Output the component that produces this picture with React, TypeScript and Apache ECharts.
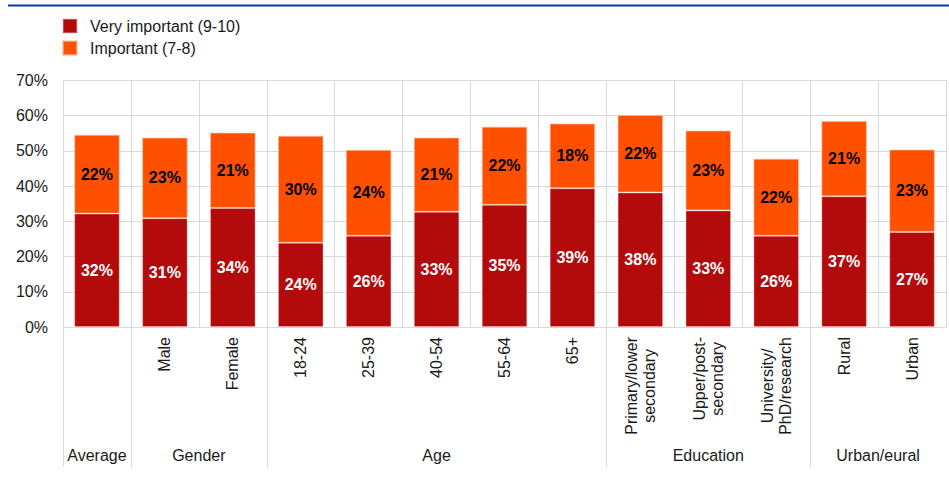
import React, { useEffect, useRef } from "react";
import * as echarts from "echarts";

const categories = [
  "Average",
  "Male",
  "Female",
  "18-24",
  "25-39",
  "40-54",
  "55-64",
  "65+",
  "Primary/lower\nsecondary",
  "Upper/post-\nsecondary",
  "University/\nPhD/research",
  "Rural",
  "Urban",
];
const veryImportant = [32.2, 30.9, 33.8, 23.9, 25.9, 32.7, 34.7, 39.4, 38.2, 33.1, 25.9, 37.1, 27.0];
const important = [22.4, 22.9, 21.4, 30.4, 24.4, 21.1, 22.2, 18.4, 22.0, 22.7, 21.9, 21.4, 23.4];
const groupNames = ["Average", "Gender", "Age", "Education", "Urban/eural"];
const groupStart = [0, 1, 3, 8, 11];
const groupEnd = [0, 2, 7, 10, 12];
const yTicks = [0, 10, 20, 30, 40, 50, 60, 70];

const FONT = "'Liberation Sans', Arial, Helvetica, sans-serif";
const DARK = "#b30b0b";
const ORANGE = "#ff5000";
const GRID = "#d9d9d9";
const TEXT = "#1a1a1a";

export default function App() {
  const ref = useRef<HTMLDivElement>(null);
  useEffect(() => {
    if (!ref.current) return;
    const chart = echarts.init(ref.current, undefined, { renderer: "svg" });

    // half-column axis: 2n+1 points, for group labels and separators
    const halfPoints = Array.from({ length: categories.length * 2 + 1 }, (_, i) => String(i));
    const labelAt: Record<number, string> = {};
    const sepAt = new Set<number>();
    groupNames.forEach((g, k) => {
      labelAt[groupStart[k] + groupEnd[k] + 1] = g;
      sepAt.add(groupStart[k] * 2);
    });
    // single-category groups carry their name only in the group row
    const singleGroupCats = new Set<number>();
    groupNames.forEach((_g, k) => {
      if (groupStart[k] === groupEnd[k]) singleGroupCats.add(groupStart[k]);
    });

    const labelStyle = {
      fontFamily: FONT,
      fontSize: 16,
      fontWeight: "bold" as const,
    };

    chart.setOption({
      animation: false,
      backgroundColor: "#ffffff",
      graphic: [
        {
          type: "line",
          shape: { x1: 8, y1: 5.5, x2: 949, y2: 5.5 },
          style: { stroke: "#0a3694", lineWidth: 2 },
          silent: true,
        },
      ],
      legend: {
        orient: "vertical",
        left: 62,
        top: 17,
        padding: 0,
        itemWidth: 14,
        itemHeight: 14,
        itemGap: 4,
        icon: "rect",
        textStyle: {
          fontFamily: FONT,
          fontSize: 16,
          color: TEXT,
          lineHeight: 18,
          padding: [0, 0, 0, 8],
        },
        data: ["Very important (9-10)", "Important (7-8)"],
      },
      grid: { left: 63, top: 80.5, width: 888, height: 246.5 },
      xAxis: [
        {
          type: "category",
          data: categories,
          position: "bottom",
          boundaryGap: true,
          axisLine: { show: true, lineStyle: { color: GRID, width: 1 } },
          axisTick: { show: false },
          splitLine: { show: true, lineStyle: { color: GRID, width: 1 } },
          axisLabel: {
            interval: 0,
            rotate: 90,
            margin: 10,
            fontFamily: FONT,
            fontSize: 16,
            color: TEXT,
            lineHeight: 18,
            formatter: (v: string, i: number) =>
              singleGroupCats.has(i)
                ? ""
                : v.indexOf("\n") >= 0
                ? v
                    .split("\n")
                    .map((l) => `{c|${l}}`)
                    .join("\n")
                : v,
            rich: {
              c: {
                align: "center",
                fontFamily: FONT,
                fontSize: 16,
                color: TEXT,
                lineHeight: 18,
              },
            },
          },
        },
        {
          type: "category",
          data: halfPoints,
          position: "bottom",
          offset: 0,
          boundaryGap: false,
          axisLine: { show: false },
          splitLine: { show: false },
          axisTick: {
            show: true,
            length: 140,
            interval: (index: number) => sepAt.has(index),
            lineStyle: { color: GRID, width: 1 },
          },
          axisLabel: {
            interval: 0,
            margin: 120,
            fontFamily: FONT,
            fontSize: 16,
            color: TEXT,
            verticalAlign: "top",
            formatter: (_v: string, i: number) => labelAt[i] || "",
          },
        },
      ],
      yAxis: {
        type: "value",
        min: yTicks[0],
        max: yTicks[yTicks.length - 1],
        interval: yTicks[1] - yTicks[0],
        axisLine: { show: false },
        axisTick: { show: false },
        splitLine: { show: true, lineStyle: { color: GRID, width: 1 } },
        axisLabel: {
          margin: 15,
          fontFamily: FONT,
          fontSize: 16,
          color: TEXT,
          formatter: "{value}%",
        },
      },
      series: [
        {
          name: "Very important (9-10)",
          type: "bar",
          stack: "total",
          xAxisIndex: 0,
          barCategoryGap: "33%",
          data: veryImportant,
          itemStyle: { color: DARK, borderColor: "rgba(255,200,200,0.35)", borderWidth: 1 },
          label: {
            show: true,
            position: "inside",
            color: "#ffffff",
            ...labelStyle,
            formatter: (p: any) => `${Math.round(p.value)}%`,
          },
        },
        {
          name: "Important (7-8)",
          type: "bar",
          stack: "total",
          xAxisIndex: 0,
          barCategoryGap: "33%",
          data: important,
          itemStyle: { color: ORANGE, borderColor: "rgba(255,190,170,0.6)", borderWidth: 1 },
          label: {
            show: true,
            position: "inside",
            color: "#000000",
            ...labelStyle,
            formatter: (p: any) => `${Math.round(p.value)}%`,
          },
        },
      ],
    });

    return () => chart.dispose();
  }, []);

  return (
    <div
      ref={ref}
      style={{ position: "fixed", left: 0, top: 0, width: 949, height: 477, background: "#fff" }}
    />
  );
}
